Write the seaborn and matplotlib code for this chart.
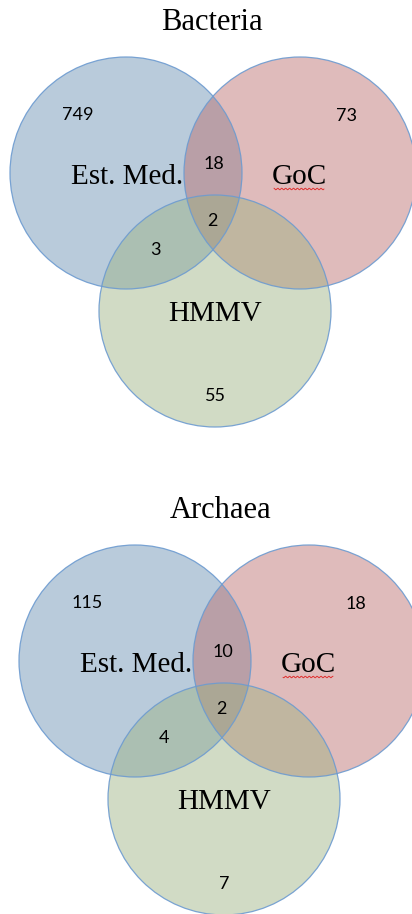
import matplotlib
matplotlib.use("Agg")
import matplotlib.pyplot as plt
from matplotlib.patches import Circle
import numpy as np
import seaborn as sns

# Data
titles = ["Bacteria", "Archaea"]
set_names = ["Est. Med.", "GoC", "HMMV"]
# regions: Est.Med only, GoC only, Est.Med&GoC, all three, Est.Med&HMMV, HMMV only
region_keys = ["A", "B", "AB", "ABC", "AC", "C"]
bacteria_counts = [749, 73, 18, 2, 3, 55]
archaea_counts = [115, 18, 10, 2, 4, 7]
all_counts = [bacteria_counts, archaea_counts]

sns.set_theme(style="white")
plt.rcParams['font.family'] = ['Liberation Serif', 'DejaVu Serif']

fill_colors = ["#648cb1", "#ba6a68", "#9bb180"]
edge_color = "#6d9bd0"

# layout (pixels, relative to each panel centre)
panel_centres = [(215, 242), (224, 730)]
circle_offsets = [(-89, -69), (85, -69), (0, 69)]
radius = 116
title_offset = (-3, -219)
name_offsets = [(-88, -65), (84, -65), (0, 72)]
count_offsets = {"A": (-137, -127), "B": (132, -126), "AB": (-1, -78),
                 "ABC": (-3, -21), "AC": (-60, 8), "C": (0, 154)}

fig = plt.figure(figsize=(4.12, 9.14), dpi=100)
ax = fig.add_axes([0, 0, 1, 1])
ax.set_xlim(0, 412)
ax.set_ylim(914, 0)
ax.set_aspect('equal')
ax.axis('off')

for title, counts, (px, py) in zip(titles, all_counts, panel_centres):
    for (dx, dy), fc in zip(circle_offsets, fill_colors):
        ax.add_patch(Circle((px + dx, py + dy), radius, facecolor=fc, alpha=0.45,
                            edgecolor='none'))
    for (dx, dy) in circle_offsets:
        ax.add_patch(Circle((px + dx, py + dy), radius, facecolor='none',
                            edgecolor=edge_color, lw=0.9, alpha=0.9))
    ax.text(px + title_offset[0], py + title_offset[1], title, fontsize=22,
            ha='center', va='center', color='black')
    for name, (dx, dy) in zip(set_names, name_offsets):
        ax.text(px + dx, py + dy, name, fontsize=21, ha='center', va='center',
                color='black')
    for key, val in zip(region_keys, counts):
        dx, dy = count_offsets[key]
        ax.text(px + dx, py + dy, str(val), fontsize=13, ha='center', va='center',
                family=['Lato', 'DejaVu Sans'], color='black')
    # red spell-check squiggle under "GoC"
    gx, gy = px + name_offsets[1][0], py + name_offsets[1][1] + 12
    xs = np.linspace(gx - 25, gx + 25, 60)
    ax.plot(xs, gy + 0.8 * np.sin(xs * 1.6), color='#e03030', lw=0.7)

fig.savefig("out.png", dpi=100)
